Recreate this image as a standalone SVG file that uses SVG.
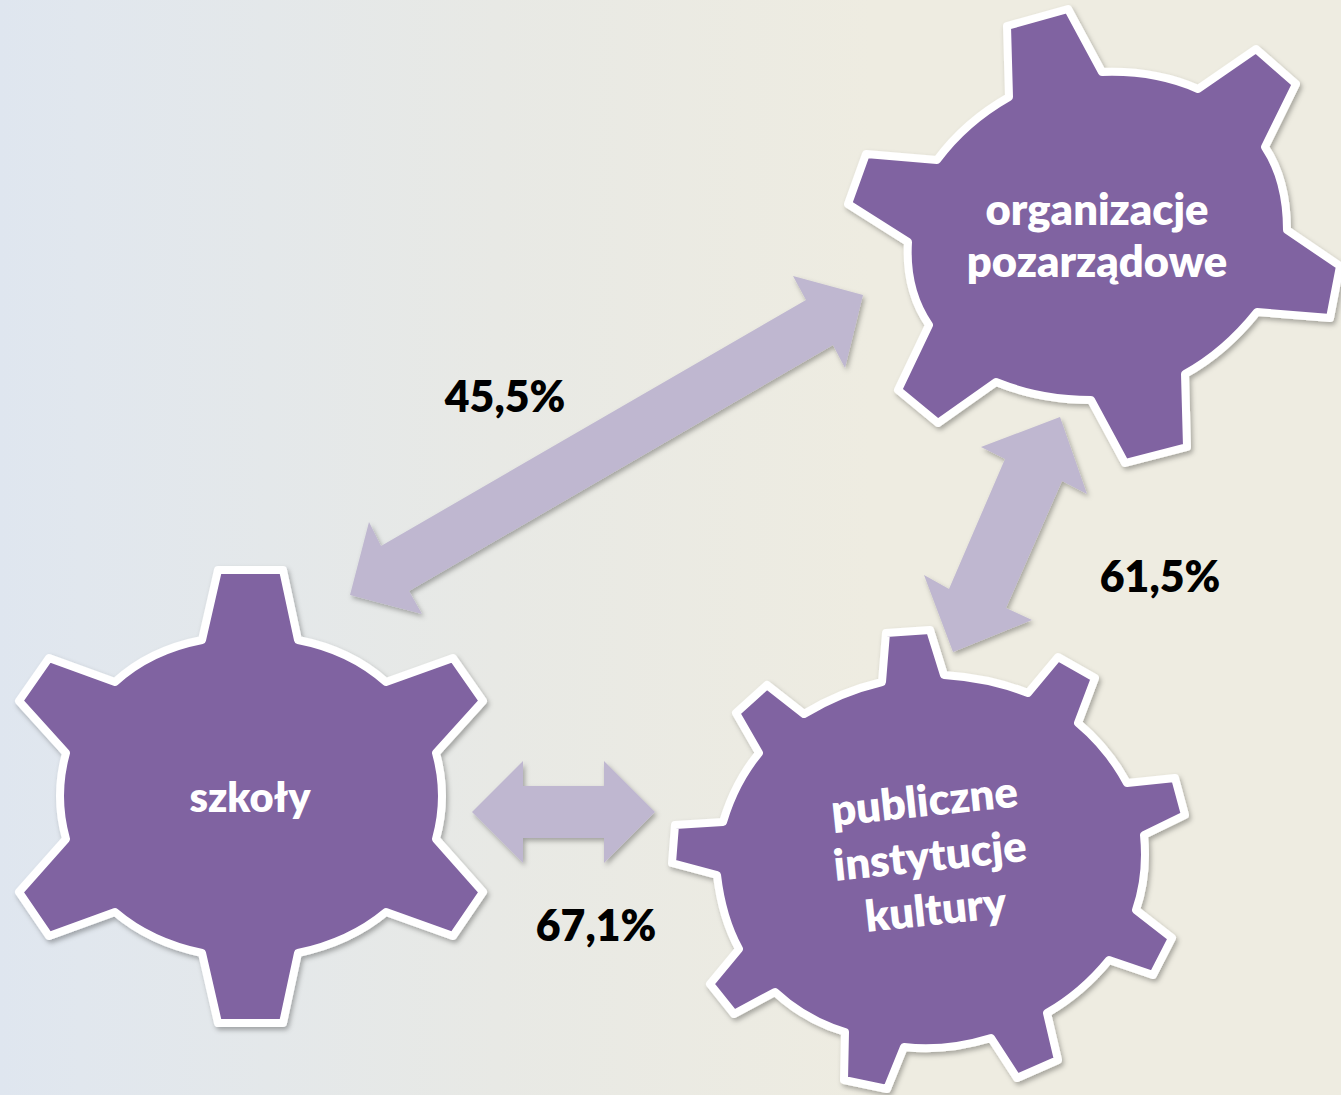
<svg xmlns="http://www.w3.org/2000/svg" width="1341" height="1095" viewBox="0 0 1341 1095">
<style>
.gear{fill:#8063a1;stroke:#fff;stroke-width:8;stroke-linejoin:round;filter:url(#sh)}
.arrow{fill:#bfb7d0;filter:url(#sh)}
.pct{font:800 42.8px Lato,"Open Sans",sans-serif;fill:#000;text-anchor:middle}
.lbl{font:800 43.5px Lato,"Open Sans",sans-serif;fill:#fff;text-anchor:middle}
</style>
<defs>
<linearGradient id="bg" x1="0" x2="1" y1="0" y2="0"><stop offset="0" stop-color="#dfe6ef"/><stop offset=".06" stop-color="#e1e7ee"/><stop offset=".2" stop-color="#e4e8ea"/><stop offset=".37" stop-color="#e8e9e5"/><stop offset=".65" stop-color="#eeece1"/><stop offset="1" stop-color="#eeece1"/></linearGradient>
<filter id="sh" x="-10%" y="-10%" width="120%" height="120%"><feDropShadow dx="2" dy="3" stdDeviation="2.5" flood-color="#000" flood-opacity=".3"/></filter>
</defs>
<rect width="1341" height="1095" fill="url(#bg)"/>
<g id="connectors">
<path class="arrow" d="M863 295L793 276L806 300L381 546L369 522L350 595L422 614L409 591L833 345L845 368Z"/>
<path class="arrow" d="M1060 417L981 447L1005 459L949 589L924 575L953 652L1032 620L1006 608L1062 481L1087 494Z"/>
<path class="arrow" d="M472 812L523 761V786H604V761L655 812L604 863V838H523V863Z"/>
</g>
<g id="szkoly">
<path class="gear" d="M218 570H283L298 640Q350 650 386 682L453 658L483 701L436 753Q448 796 436 839L483 892L453 936L386 912Q350 942 298 953L283 1023H218L202 953Q150 942 115 912L49 936L19 892L66 839Q54 796 66 753L19 701L49 658L115 682Q150 650 202 640Z"/>
<text class="lbl" x="250" y="812" style="font-size:41.5px">szkoły</text>
</g>
<g id="organizacje">
<path class="gear" d="M1007 26L1068 9L1102 72Q1155 70 1198 89L1256 49L1296 84L1265 147Q1287 180 1287 230L1340 266L1330 318L1257 312Q1225 352 1185 374L1187 447L1125 463L1091 400Q1040 400 996 382L938 423L898 390L929 325Q905 290 908 242L848 204L866 154L937 160Q965 122 1009 97Z"/>
<text class="lbl" x="1097" y="225">organizacje</text>
<text class="lbl" x="1097" y="277">pozarządowe</text>
</g>
<g id="publiczne">
<path class="gear" d="M886 633L930 630L944 675Q990 678 1028 693L1058 657L1095 678L1078 723Q1108 748 1127 783L1175 778L1185 815L1144 835Q1148 875 1136 910L1172 938L1153 975L1109 960Q1082 993 1047 1013L1058 1060L1017 1078L991 1038Q945 1052 904 1047L887 1089L844 1080L845 1032Q805 1020 775 992L734 1014L710 984L739 949Q722 918 717 875L672 863L675 825L723 822Q735 782 759 753L736 713L767 685L804 714Q840 692 882 682Z"/>
<g transform="rotate(-6 931 865)">
<text class="lbl" x="931" y="816">publiczne</text>
<text class="lbl" x="931" y="871">instytucje</text>
<text class="lbl" x="931" y="925">kultury</text>
</g>
</g>
<text class="pct" x="505" y="412">45,5%</text>
<text class="pct" x="1160" y="592">61,5%</text>
<text class="pct" x="596" y="941">67,1%</text>
</svg>
